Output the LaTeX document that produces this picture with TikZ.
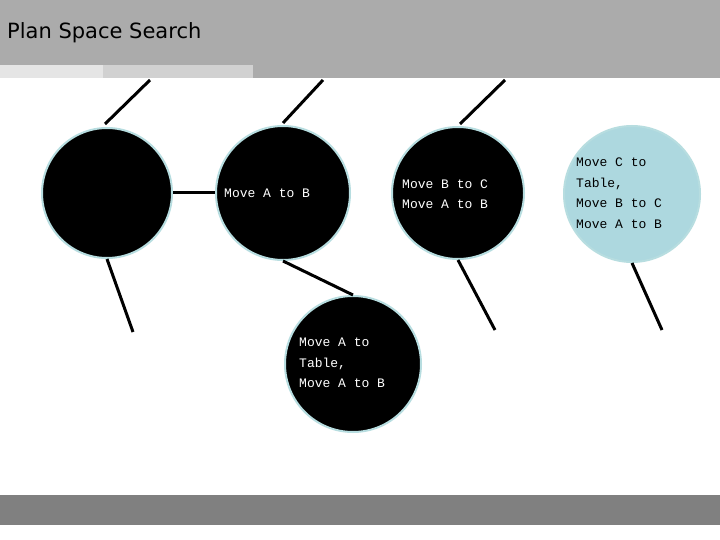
\documentclass[tikz,border=0pt]{standalone}
\usepackage{fontspec}
\setmainfont{DejaVu Sans}
\newfontfamily\monof{Liberation Mono}
\begin{document}
\begin{tikzpicture}[x=1pt,y=-1pt,
  plan/.style={circle,draw=lightedge,line width=2pt,fill=black,inner sep=0pt},
  txt/.style={font=\monof\fontsize{13}{20.5}\selectfont,align=left,anchor=west,inner sep=0pt},
  conn/.style={line width=3pt}]
\definecolor{lightedge}{HTML}{B7DDE0}
\definecolor{goalfill}{HTML}{ADD8DF}
\useasboundingbox (0,0) rectangle (720,540);
\fill[white] (0,0) rectangle (720,540);
\fill[black!33] (0,0) rectangle (720,78);
\fill[black!10] (0,65) rectangle (103,78);
\fill[black!18] (103,65) rectangle (253,78);
\fill[black!50] (0,495) rectangle (720,525);
\node[anchor=west,inner sep=0pt,font=\fontsize{21}{24}\selectfont] (title) at (7,33) {Plan Space Search};
\node[plan,minimum size=130] (c1) at (107,193) {};
\node[plan,minimum size=134] (c2) at (283,193) {};
\node[plan,minimum size=132] (c3) at (458,193) {};
\node[plan,minimum size=136,fill=goalfill] (c4) at (632,194) {};
\node[plan,minimum size=136] (c5) at (353,364) {};
\node[txt,text=white] (t2) at (224,193) {Move A to B};
\node[txt,text=white] (t3) at (402,194) {Move B to C\\Move A to B};
\node[txt,text=black] (t4) at (576,193) {Move C to\\Table,\\Move B to C\\Move A to B};
\node[txt,text=white] (t5) at (299,363) {Move A to\\Table,\\Move A to B};
\coordinate (u1) at (150,80); \coordinate (u2) at (323,80); \coordinate (u3) at (505,80);
\coordinate (d1) at (133,332); \coordinate (d3) at (495,330); \coordinate (d4) at (662,330);
\draw[conn] (c1.north) ++(-2,-3) -- (u1);
\draw[conn] (c2.north) ++(0,-2) -- (u2);
\draw[conn] (c3.north) ++(2,-2) -- (u3);
\draw[conn] (c1.east) -- (c2.west);
\draw[conn] (c1.south) -- (d1);
\draw[conn] (c2.south) -- (c5.north);
\draw[conn] (c3.south) -- (d3);
\draw[conn] (c4.south) -- (d4);
\end{tikzpicture}
\end{document}
